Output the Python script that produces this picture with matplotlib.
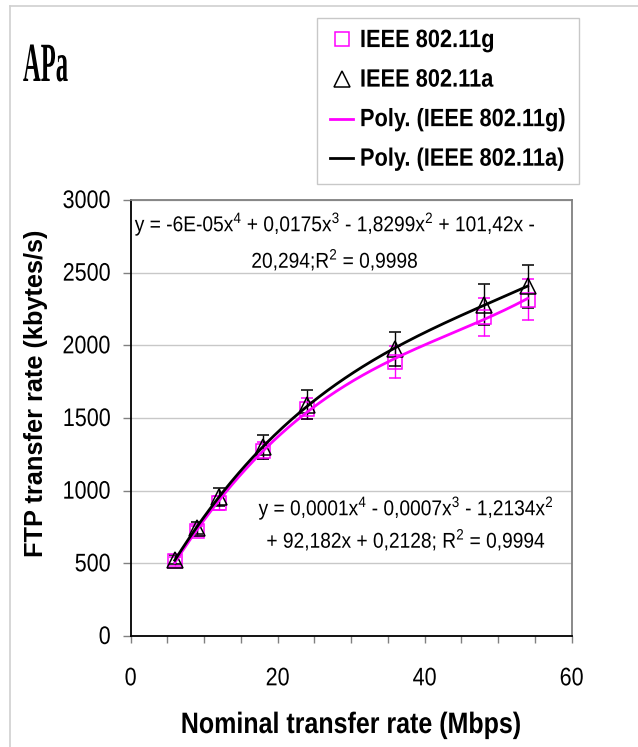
import numpy as np
import matplotlib
matplotlib.use("Agg")
import matplotlib.pyplot as plt
from matplotlib.lines import Line2D
from matplotlib.patheffects import AbstractPathEffect
from matplotlib.transforms import Affine2D
from matplotlib.ticker import MultipleLocator

# Measured FTP throughput for each nominal PHY rate
rates_mbps = [6, 9, 12, 18, 24, 36, 48, 54]
ftp_g = [515, 725, 915, 1275, 1565, 1885, 2195, 2315]
err_g = [30, 35, 50, 60, 70, 110, 130, 140]
ftp_a = [525, 745, 955, 1300, 1590, 1975, 2280, 2405]
err_a = [30, 40, 60, 80, 100, 120, 140, 150]

label_g = "IEEE 802.11g"
label_a = "IEEE 802.11a"
eq_a = [r"y = -6E-05x$^4$ + 0,0175x$^3$ - 1,8299x$^2$ + 101,42x -",
        r"20,294;R$^2$ = 0,9998"]
eq_g = [r"y = 0,0001x$^4$ - 0,0007x$^3$ - 1,2134x$^2$",
        r"+ 92,182x + 0,2128; R$^2$ = 0,9994"]

MAGENTA = "#FF00FF"
SANS = ["Liberation Sans", "DejaVu Sans"]
plt.rcParams["font.family"] = SANS
plt.rcParams["mathtext.fontset"] = "custom"
plt.rcParams["mathtext.rm"] = "Liberation Sans"


class Stretch(AbstractPathEffect):
    """Scale glyph outlines about their baseline origin."""

    def __init__(self, sx=1.0, sy=1.0):
        super().__init__()
        self.sx, self.sy = sx, sy

    def draw_path(self, renderer, gc, tpath, affine, rgbFace=None):
        renderer.draw_path(gc, tpath, Affine2D().scale(self.sx, self.sy) + affine, rgbFace)


TALL = [Stretch(1.0, 1.18)]

W, H = 638, 747
fig = plt.figure(figsize=(W / 100, H / 100), dpi=100)


def fx(px):
    return px / W


def fy(py):
    return 1 - py / H


ax = fig.add_axes([fx(130.7), fy(636), fx(571.7) - fx(130.7), fy(200) - fy(636)])

x = np.array(rates_mbps, dtype=float)
yg = np.array(ftp_g, dtype=float)
ya = np.array(ftp_a, dtype=float)

ax.errorbar(x, yg, yerr=err_g, fmt="s", ms=10.5, mfc="none", mec=MAGENTA, mew=1.1,
            ecolor=MAGENTA, elinewidth=1.0, capsize=4.5, capthick=1.0, zorder=3)
ax.errorbar(x, ya, yerr=err_a, fmt="^", ms=11, mfc="none", mec="black", mew=1.1,
            ecolor="black", elinewidth=1.0, capsize=4.5, capthick=1.0, zorder=3)

# 4th-order polynomial trendlines over the measured range
xs = np.linspace(x.min(), x.max(), 200)
ax.plot(xs, np.polyval(np.polyfit(x, yg, 4), xs), color=MAGENTA, lw=2.0, zorder=4)
ax.plot(xs, np.polyval(np.polyfit(x, ya, 4), xs), color="black", lw=2.0, zorder=4)

ax.set_xlim(0, 60)
ax.set_ylim(0, 3000)
ax.xaxis.set_major_locator(MultipleLocator(20))
ax.xaxis.set_minor_locator(MultipleLocator(5))
ax.yaxis.set_major_locator(MultipleLocator(500))
ax.yaxis.grid(True, color="#c8c8c8", lw=1.0)
ax.set_axisbelow(True)

for side in ("top", "right"):
    ax.spines[side].set_color("#808080")
    ax.spines[side].set_linewidth(1.3)
for side in ("left", "bottom"):
    ax.spines[side].set_color("black")
    ax.spines[side].set_linewidth(1.3)

ax.tick_params(axis="y", which="major", direction="out", length=5.8, width=1.0,
               labelsize=15.5, pad=8.5, colors="black")
ax.tick_params(axis="y", which="major", color="#808080")
ax.tick_params(axis="x", which="both", direction="out", length=5, width=1.0,
               color="#808080")
ax.tick_params(axis="x", which="major", labelsize=15.5, pad=19, labelcolor="black")

# Axis titles
fig.text(fx(351), fy(733), "Nominal transfer rate (Mbps)", ha="center", va="baseline",
         fontsize=18, fontweight="bold", path_effects=TALL)
fig.text(fx(36), fy(393), "FTP transfer rate (kbytes/s)", ha="center", va="center",
         rotation=90, fontsize=18.3, fontweight="bold")

# Trendline equations
for txt, cx, cy in ((eq_a[0], 335, 225), (eq_a[1], 335, 261),
                    (eq_g[0], 406, 509), (eq_g[1], 406, 541)):
    ax.text(fx(cx), fy(cy), txt, transform=fig.transFigure, ha="center", va="center",
            fontsize=13.8, path_effects=[Stretch(1.0, 1.12)])

# Panel tag
fig.text(fx(23), fy(81), "APa", ha="left", va="baseline", fontsize=17.7,
         fontweight="bold", family=["Liberation Serif", "DejaVu Serif"],
         path_effects=[Stretch(1.0, 2.25)])

# Legend
handles = [
    Line2D([], [], ls="none", marker="s", ms=10.5, mfc="none", mec=MAGENTA, mew=1.1),
    Line2D([], [], ls="none", marker="^", ms=11, mfc="none", mec="black", mew=1.1),
    Line2D([], [], color=MAGENTA, lw=2.0),
    Line2D([], [], color="black", lw=2.0),
]
labels = [label_g, label_a, "Poly. (" + label_g + ")", "Poly. (" + label_a + ")"]
leg = fig.legend(handles, labels, loc="upper left", bbox_to_anchor=(fx(317), fy(18)),
                 bbox_transform=fig.transFigure, borderaxespad=0, frameon=True,
                 fancybox=False, edgecolor="#c8c8c8", framealpha=1,
                 prop={"weight": "bold", "size": 15.7, "family": SANS},
                 handlelength=1.07, handletextpad=0.3, labelspacing=0.85,
                 borderpad=0.6)
leg.get_frame().set_linewidth(1.0)
for t in leg.get_texts():
    t.set_path_effects([Stretch(1.0, 1.15)])

# Outer chart-area frame (top and left edges)
fig.add_artist(Line2D([fx(10), 1], [fy(6), fy(6)], transform=fig.transFigure,
                      color="#d0d0d0", lw=1.2))
fig.add_artist(Line2D([fx(10), fx(10)], [0, fy(6)], transform=fig.transFigure,
                      color="#d0d0d0", lw=1.2))

fig.canvas.draw()
for lbl in ax.get_xticklabels() + ax.get_yticklabels():
    lbl.set_path_effects(TALL)

fig.savefig("out.png", dpi=100)
